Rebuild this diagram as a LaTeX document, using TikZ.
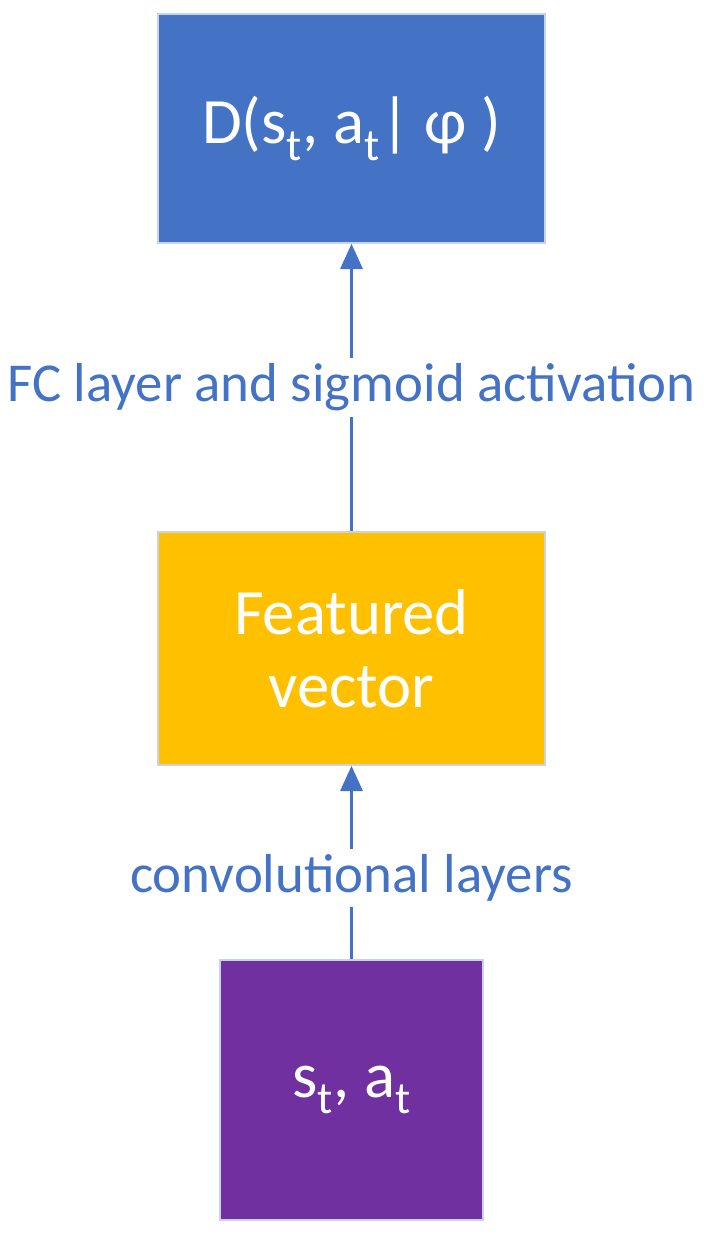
\documentclass[tikz,border=0pt]{standalone}
\usepackage{fontspec}
\setmainfont{Carlito}
\usetikzlibrary{positioning,arrows.meta}
\definecolor{boxblue}{HTML}{4472C4}
\definecolor{boxgold}{HTML}{FFC000}
\definecolor{boxpurple}{HTML}{7030A0}
\definecolor{rimgray}{HTML}{C9D3E6}
\tikzset{
    % Stile per i blocchi
    block/.style={draw=rimgray, line width=1.2pt, align=center,
                  text=white, font=\fontsize{46}{52}\selectfont,
                  inner sep=0pt},
    % Stile per le frecce
    flow/.style={draw=boxblue, line width=1.6pt,
                 -{Triangle[length=18pt,width=16pt]}},
    % Stile per le etichette
    steplabel/.style={fill=white, text=boxblue, inner sep=4pt,
                      font=\fontsize{39}{45}\selectfont}
}
\begin{document}
\begin{tikzpicture}[x=0.025cm, y=-0.025cm]
    \useasboundingbox (0,0) rectangle (704,1239);
    \node[block, fill=boxblue, minimum width=9.675cm, minimum height=5.725cm]
        (disc) at (351.5,128.5) {D(s\textsubscript{t}, a\textsubscript{t}| φ )};
    \node[block, fill=boxgold, minimum width=9.675cm, minimum height=5.825cm]
        (feat) at (351.5,648.5) {Featured\\vector};
    \node[block, fill=boxpurple, minimum width=6.575cm, minimum height=6.5cm,
          font=\fontsize{46}{52}\selectfont]
        (input) at (351.5,1090) {s\textsubscript{t}, a\textsubscript{t}};
    \draw[flow] (input.north) -- node[steplabel, pos=0.42] {convolutional layers} (feat.south);
    \draw[flow] (feat.north) -- node[steplabel] {FC layer and sigmoid activation} (disc.south);
\end{tikzpicture}
\end{document}
